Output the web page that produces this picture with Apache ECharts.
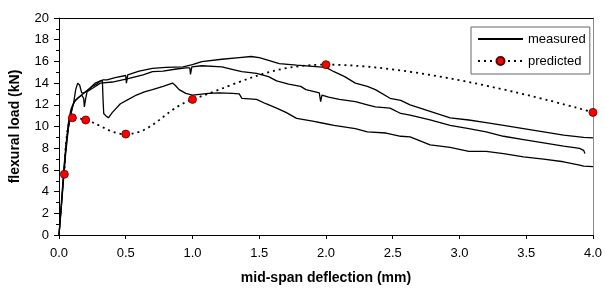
<!DOCTYPE html>
<html>
<head>
<meta charset="utf-8">
<script src="https://cdn.jsdelivr.net/npm/echarts@6/dist/echarts.min.js"></script>
<style>
html,body{margin:0;padding:0;background:#fff;}
#c{width:605px;height:294px;}
</style>
</head>
<body>
<div id="c"></div>
<script>
// x tick labels and axis settings
const xTicks = ['0.0','0.5','1.0','1.5','2.0','2.5','3.0','3.5','4.0'];
const yTicks = [0,2,4,6,8,10,12,14,16,18,20];

// measured curve A (highest peak)
const measuredA = [[0,0],[0.02,3],[0.04,6.5],[0.06,9],[0.08,10.8],[0.1,11.8],[0.12,12.4],[0.16,12.8],[0.2,13.2],[0.23,13.5],[0.27,14.0],[0.33,14.3],[0.36,14.3],[0.42,14.5],[0.5,14.7],[0.505,14.0],[0.515,14.75],[0.6,15.1],[0.7,15.35],[0.8,15.45],[0.93,15.5],[1.0,15.7],[1.07,15.97],[1.22,16.2],[1.35,16.35],[1.44,16.45],[1.5,16.35],[1.57,16.1],[1.65,15.8],[1.78,15.65],[1.9,15.55],[2.0,15.45],[2.06,15.05],[2.14,14.6],[2.22,14.0],[2.31,13.7],[2.37,13.4],[2.48,12.6],[2.56,12.4],[2.63,12.0],[2.78,11.4],[2.93,10.8],[3.07,10.6],[3.2,10.35],[3.33,10.1],[3.48,9.8],[3.63,9.5],[3.78,9.2],[3.93,9.0],[4.0,8.95]];
// measured curve B (middle)
const measuredB = [[0,0],[0.015,2.5],[0.03,5],[0.05,8],[0.07,10.3],[0.09,11.6],[0.11,12.2],[0.14,12.6],[0.17,12.9],[0.185,12.6],[0.19,11.8],[0.2,12.6],[0.21,13.2],[0.26,13.6],[0.31,14.0],[0.4,14.1],[0.51,14.4],[0.63,14.75],[0.7,15.05],[0.78,15.1],[0.88,15.3],[0.95,15.4],[0.98,15.4],[0.985,14.8],[0.995,15.5],[1.07,15.6],[1.22,15.5],[1.32,15.2],[1.37,15.05],[1.48,14.9],[1.57,14.6],[1.63,14.2],[1.72,13.9],[1.81,13.7],[1.85,13.4],[1.95,13.1],[1.96,12.3],[1.97,12.9],[2.02,12.7],[2.1,12.5],[2.22,12.3],[2.31,12.0],[2.37,11.8],[2.48,11.7],[2.56,11.2],[2.63,11.05],[2.78,10.6],[2.93,10.1],[3.07,9.8],[3.2,9.5],[3.33,9.1],[3.48,8.8],[3.63,8.5],[3.78,8.2],[3.9,7.98],[3.93,7.8],[3.94,7.5]];
// measured curve C (lowest tail)
const measuredC = [[0,0],[0.01,1.5],[0.03,4.5],[0.05,7.5],[0.07,9.8],[0.09,11.2],[0.11,12.2],[0.125,13.4],[0.14,14.0],[0.155,13.8],[0.17,13.1],[0.19,13.1],[0.22,13.4],[0.25,13.7],[0.28,13.9],[0.31,14.2],[0.325,14.2],[0.33,12.5],[0.335,11.2],[0.35,11.0],[0.37,10.8],[0.4,11.3],[0.46,12.1],[0.52,12.5],[0.58,12.9],[0.64,13.2],[0.7,13.4],[0.78,13.7],[0.85,14.0],[0.87,13.8],[0.9,13.4],[0.95,13.05],[1.0,12.9],[1.12,13.05],[1.2,13.1],[1.3,13.05],[1.35,13.0],[1.37,12.6],[1.48,12.5],[1.55,12.1],[1.63,11.7],[1.7,11.3],[1.78,10.75],[1.9,10.5],[1.98,10.3],[2.06,10.1],[2.22,9.8],[2.31,9.5],[2.45,9.4],[2.56,9.1],[2.63,9.05],[2.7,8.7],[2.78,8.3],[2.93,8.07],[3.07,7.7],[3.2,7.7],[3.33,7.5],[3.48,7.2],[3.63,7.0],[3.78,6.75],[3.9,6.45],[3.93,6.35],[4.0,6.3]];
// predicted points
const predX = [0.04,0.1,0.2,0.5,1.0,2.0,4.0];
const predY = [5.6,10.8,10.6,9.3,12.5,15.7,11.3];

const FONT = 'Liberation Sans, Arial, sans-serif';
const chart = echarts.init(document.getElementById('c'), null, {renderer:'canvas'});

function measuredSeries(data){
  return {
    type:'line', name:'measured', data:data, showSymbol:false, symbol:'none',
    lineStyle:{color:'#000', width:1.3}, itemStyle:{color:'#000'},
    animation:false, z:2, xAxisIndex:0, yAxisIndex:0
  };
}

chart.setOption({
  animation:false,
  backgroundColor:'#fff',
  grid:{left:55, right:10, top:18, bottom:59, containLabel:false},
  legend:{
    show:true, selectedMode:false, orient:'vertical',
    left:471, top:27, padding:[4,4,5,6], itemGap:6, itemWidth:45, itemHeight:10,
    borderColor:'#666', borderWidth:1, backgroundColor:'#fff',
    textStyle:{fontFamily:FONT, fontSize:13, color:'#000', lineHeight:16},
    data:[
      {name:'measured', itemStyle:{opacity:0}},
      {name:'predicted'}
    ]
  },
  xAxis:[{
    type:'value', min:0, max:4, interval:0.5, position:'bottom',
    axisLine:{show:true, onZero:false, lineStyle:{color:'#000', width:1}},
    axisTick:{show:true, inside:false, length:4, lineStyle:{color:'#000'}},
    axisLabel:{fontFamily:FONT, fontSize:13, color:'#000', margin:12,
      formatter:function(v){ const i = Math.round(v/0.5); return xTicks[i] !== undefined ? xTicks[i] : ''; }},
    splitLine:{show:false},
    name:'mid-span deflection (mm)', nameLocation:'middle', nameGap:36,
    nameTextStyle:{fontFamily:FONT, fontSize:14, fontWeight:'bold', color:'#000'}
  },{
    type:'value', min:0, max:4, interval:0.5, position:'top',
    axisLine:{show:true, onZero:false, lineStyle:{color:'#000', width:1}},
    axisTick:{show:false}, axisLabel:{show:false}, splitLine:{show:false}
  }],
  yAxis:[{
    type:'value', min:0, max:20, interval:2, position:'left',
    axisLine:{show:true, onZero:false, lineStyle:{color:'#000', width:1}},
    axisTick:{show:true, inside:false, length:5, lineStyle:{color:'#000'}},
    minorTick:{show:true, splitNumber:2, length:3, lineStyle:{color:'#000'}},
    axisLabel:{fontFamily:FONT, fontSize:13, color:'#000', margin:10,
      formatter:function(v){ const i = Math.round(v/2); return yTicks[i] !== undefined ? String(yTicks[i]) : ''; }},
    splitLine:{show:false},
    name:'flexural load (kN)', nameLocation:'middle', nameGap:37, nameRotate:90,
    nameTextStyle:{fontFamily:FONT, fontSize:14, fontWeight:'bold', color:'#000'}
  },{
    type:'value', min:0, max:20, interval:2, position:'right',
    axisLine:{show:true, onZero:false, lineStyle:{color:'#888', width:1}},
    axisTick:{show:false}, axisLabel:{show:false}, splitLine:{show:false}
  }],
  series:[
    measuredSeries(measuredA),
    measuredSeries(measuredB),
    measuredSeries(measuredC),
    {
      type:'line', name:'predicted', xAxisIndex:0, yAxisIndex:0,
      data: predX.map(function(x,i){ return [x, predY[i]]; }),
      smooth:0.4, clip:false, z:5,
      symbol:'circle', symbolSize:8, showSymbol:true,
      itemStyle:{color:'#ff0000', borderColor:'#550000', borderWidth:0.8},
      lineStyle:{color:'#000', width:1.8, type:[2,4]}
    }
  ]
});
</script>
</body>
</html>
